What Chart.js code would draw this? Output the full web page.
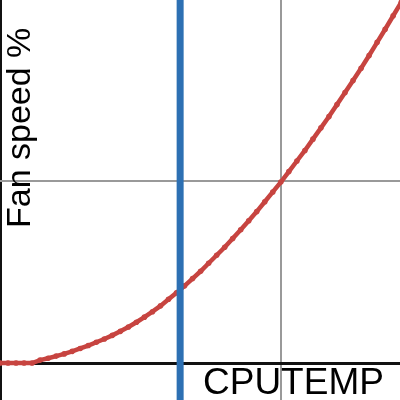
<!DOCTYPE html>
<html><head><meta charset="utf-8">
<script src="https://cdn.jsdelivr.net/npm/chart.js@4/dist/chart.umd.min.js"></script>
<style>html,body{margin:0;padding:0;background:#fff;}#wrap{width:400px;height:400px;}</style>
</head><body><div id="wrap"><canvas id="c" width="400" height="400"></canvas></div>
<script>
const cpuTemp = [0,2,4,6,8,10,12,14,16,18,20,22,24,26,28,30,32,34,36,38,40,42,44,46,48,50,52,54,56,58,60,62,64,66,68,70,72,74,76,78,80,82,84,86,88,90,92,94,96,98,100];
const fanSpeed = [0,0,0,0,0,0.8,1.3,1.9,2.5,3.2,4.0,4.8,5.7,6.6,7.6,8.7,9.9,11.2,12.6,14.1,15.7,17.5,19.3,21.2,23.2,25.2,27.4,29.6,31.8,34.2,36.6,39.1,41.6,44.3,47.0,49.7,52.6,55.5,58.4,61.5,64.6,67.7,71.0,74.3,77.6,81.0,84.5,88.1,91.7,95.4,99.1];
const markerTemp = 44.9;
const markerSpan = [-50, 200];
const xGridTicks = [0, 70];
const yGridTicks = [0, 50];
const xTitle = 'CPUTEMP';
const yTitle = 'Fan speed %';

const curvePoints = cpuTemp.map((t, i) => ({x: t, y: fanSpeed[i]}));
const markerPoints = markerSpan.map(v => ({x: markerTemp, y: v}));

const titlePlugin = {
  id: 'titles',
  beforeDatasetsDraw(chart) {
    const ctx = chart.ctx;
    ctx.save();
    ctx.fillStyle = '#000';
    ctx.textAlign = 'left';
    ctx.textBaseline = 'alphabetic';
    ctx.font = '37px "Liberation Sans", Arial, sans-serif';
    ctx.fillText(xTitle, 203, 394);
    ctx.translate(30, 228);
    ctx.rotate(-Math.PI / 2);
    ctx.font = '34px "Liberation Sans", Arial, sans-serif';
    ctx.fillText(yTitle, 0, 0);
    ctx.restore();
  }
};

new Chart(document.getElementById('c'), {
  type: 'line',
  data: {
    datasets: [
      {data: markerPoints, borderColor: '#2d70b3', borderWidth: 7, pointRadius: 0, order: 0},
      {data: curvePoints, borderColor: '#c74440', backgroundColor: '#c74440', borderWidth: 4.5, pointRadius: 2.8, pointBorderWidth: 0, order: 1}
    ]
  },
  options: {
    responsive: false,
    animation: false,
    devicePixelRatio: 1,
    layout: {padding: 0, autoPadding: false},
    plugins: {legend: {display: false}, tooltip: {enabled: false}},
    scales: {
      x: {
        type: 'linear', min: 0, max: 99.7,
        ticks: {display: false},
        border: {display: false},
        grid: {drawTicks: false,
          color: c => c.tick && c.tick.value === 0 ? '#111' : '#999',
          lineWidth: c => c.tick && c.tick.value === 0 ? 3 : 2},
        afterBuildTicks: s => { s.ticks = xGridTicks.map(v => ({value: v})); }
      },
      y: {
        type: 'linear', min: -10.16, max: 99.73,
        ticks: {display: false},
        border: {display: false},
        grid: {drawTicks: false,
          color: c => c.tick && c.tick.value === 0 ? '#111' : '#999',
          lineWidth: c => c.tick && c.tick.value === 0 ? 3 : 2},
        afterBuildTicks: s => { s.ticks = yGridTicks.map(v => ({value: v})); }
      }
    }
  },
  plugins: [titlePlugin]
});
</script>
</body></html>
